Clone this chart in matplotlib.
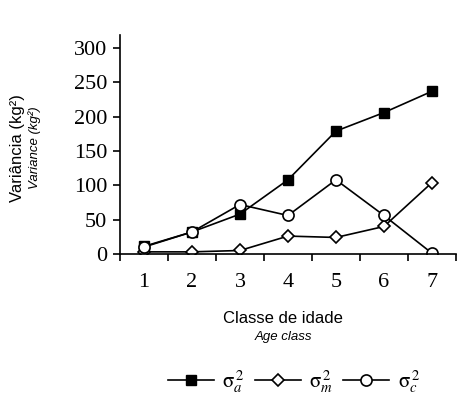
import matplotlib.pyplot as plt
import numpy as np

# data
classes = [1, 2, 3, 4, 5, 6, 7]
var_a = [11, 32, 58, 108, 179, 206, 237]
var_m = [3, 3, 5, 26, 24, 40, 104]
var_c = [10, 32, 72, 56, 108, 56, 1]
labels = [r'$\mathrm{\sigma}_{\mathit{a}}^{\,2}$', r'$\mathrm{\sigma}_{\mathit{m}}^{\,2}$',
          r'$\mathrm{\sigma}_{\mathit{c}}^{\,2}$']

plt.rcParams['mathtext.fontset'] = 'stix'

fig = plt.figure(figsize=(4.74, 3.98), dpi=100)
ax = fig.add_axes([0.253, 0.362, 0.709, 0.55])

ax.plot(classes, var_a, '-s', color='black', lw=1.2, ms=7, mfc='black', mec='black', label=labels[0])
ax.plot(classes, var_m, '-D', color='black', lw=1.2, ms=6, mfc='white', mec='black', mew=1.2, label=labels[1])
ax.plot(classes, var_c, '-o', color='black', lw=1.2, ms=8, mfc='white', mec='black', mew=1.2, label=labels[2])

ax.set_xlim(0.5, 7.5)
ax.set_ylim(0, 319)
ax.set_yticks([0, 50, 100, 150, 200, 250, 300])
ax.set_xticks(classes)
ax.set_xticks(np.arange(0.5, 8, 1), minor=True)
ax.tick_params(axis='x', which='major', length=0, pad=14)
ax.tick_params(axis='x', which='minor', length=5, width=1.2, direction='out')
ax.tick_params(axis='y', length=5, width=1.2, direction='out', pad=4)
for t in ax.get_xticklabels() + ax.get_yticklabels():
    t.set_family('Liberation Serif')
    t.set_fontsize(16)

ax.spines['top'].set_visible(False)
ax.spines['right'].set_visible(False)
ax.spines['left'].set_linewidth(1.2)
ax.spines['bottom'].set_linewidth(1.2)

fig.text(0.036, 0.628, 'Variância (kg²)', rotation=90, ha='center', va='center',
         family='Liberation Sans', fontsize=12)
fig.text(0.074, 0.628, 'Variance (kg²)', rotation=90, ha='center', va='center',
         family='Liberation Sans', fontsize=9.5, style='italic')
fig.text(0.597, 0.201, 'Classe de idade', ha='center', va='center',
         family='Liberation Sans', fontsize=12)
fig.text(0.597, 0.153, 'Age class', ha='center', va='center',
         family='Liberation Sans', fontsize=9.5, style='italic')

fig.legend(loc='center', bbox_to_anchor=(0.62, 0.042), ncol=3, frameon=False,
           fontsize=15, handlelength=2.2, columnspacing=0.5, handletextpad=0.4)

fig.savefig('out.png', dpi=100)
